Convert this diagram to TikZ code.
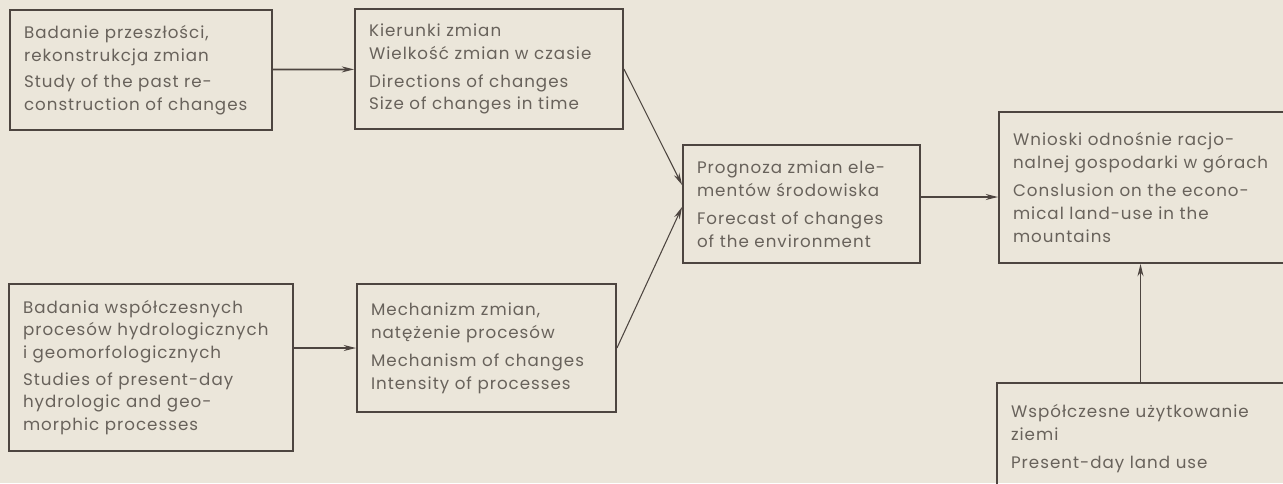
\documentclass[tikz,border=0pt]{standalone}
\usepackage{fontspec}
\setmainfont{Poppins}[LetterSpace=6]
\usetikzlibrary{arrows.meta}
\definecolor{paper}{HTML}{EBE6DA}
\definecolor{ink}{HTML}{4D4540}
\definecolor{pencil}{HTML}{68625B}

\begin{document}
\begin{tikzpicture}[x=0.02cm,y=-0.02cm]
\tikzstyle{block} = [rectangle, draw=ink, line width=1.1pt, text=pencil,
inner xsep=0.28cm, align=left, font=\fontsize{9.5}{13}\selectfont]
\tikzstyle{line} = [draw=ink, line width=1pt, -{Stealth[length=7pt,width=3.4pt]}]
\tikzstyle{thin line} = [line, line width=0.6pt]

\useasboundingbox [fill=paper] (0,0) rectangle (1283,483);

% row 1
\node [block, text width=4.68cm, minimum height=2.4cm] (past) at (141,70) {
Badanie przeszłości,\\ rekonstrukcja zmian\\[2pt]
Study of the past re-\\ construction of changes};
\node [block, text width=4.8cm, minimum height=2.4cm] (directions) at (489,69) {
Kierunki zmian\\ Wielkość zmian w czasie\\[3pt]
Directions of changes\\ Size of changes in time};
% row 2
\node [block, text width=4.18cm, minimum height=2.36cm] (forecast) at (801.5,204) {
Prognoza zmian ele-\\ mentów środowiska\\[3pt]
Forecast of changes\\ of the environment};
\node [block, text width=5.66cm, minimum height=3.02cm] (conclusion) at (1154.5,187.5) {
Wnioski odnośnie racjo-\\ nalnej gospodarki w górach\\[3pt]
Conslusion on the econo-\\ mical land-use in the\\ mountains};
% row 3
\node [block, text width=5.12cm, minimum height=3.34cm] (present) at (151,367.5) {
Badania współczesnych\\ procesów hydrologicznych\\ i geomorfologicznych\\[2pt]
Studies of present-day\\ hydrologic and geo-\\ morphic processes};
\node [block, text width=4.62cm, minimum height=2.56cm] (mechanism) at (486.5,348) {
Mechanizm zmian,\\ natężenie procesów\\[3pt]
Mechanism of changes\\ Intensity of processes};
\node [block, text width=5.66cm, minimum height=2.24cm] (landuse) at (1152.5,439) {
Współczesne użytkowanie\\ ziemi\\[3pt]
Present-day land use};

\tikzstyle{every path}=[line]
\path (past) -- (directions);
\path (present.east |- mechanism.west) -- (mechanism);
\path [thin line] (directions.east) -- ([yshift=0.38cm]forecast.west);
\path [thin line] (mechanism.east) -- ([yshift=-0.06cm]forecast.west);
\path ([yshift=0.14cm]forecast.east) -- ([yshift=0.14cm]forecast.east -| conclusion.west);
\path ([xshift=-0.24cm]landuse.north) -- ([xshift=-0.24cm]landuse.north |- conclusion.south);
\end{tikzpicture}
\end{document}
